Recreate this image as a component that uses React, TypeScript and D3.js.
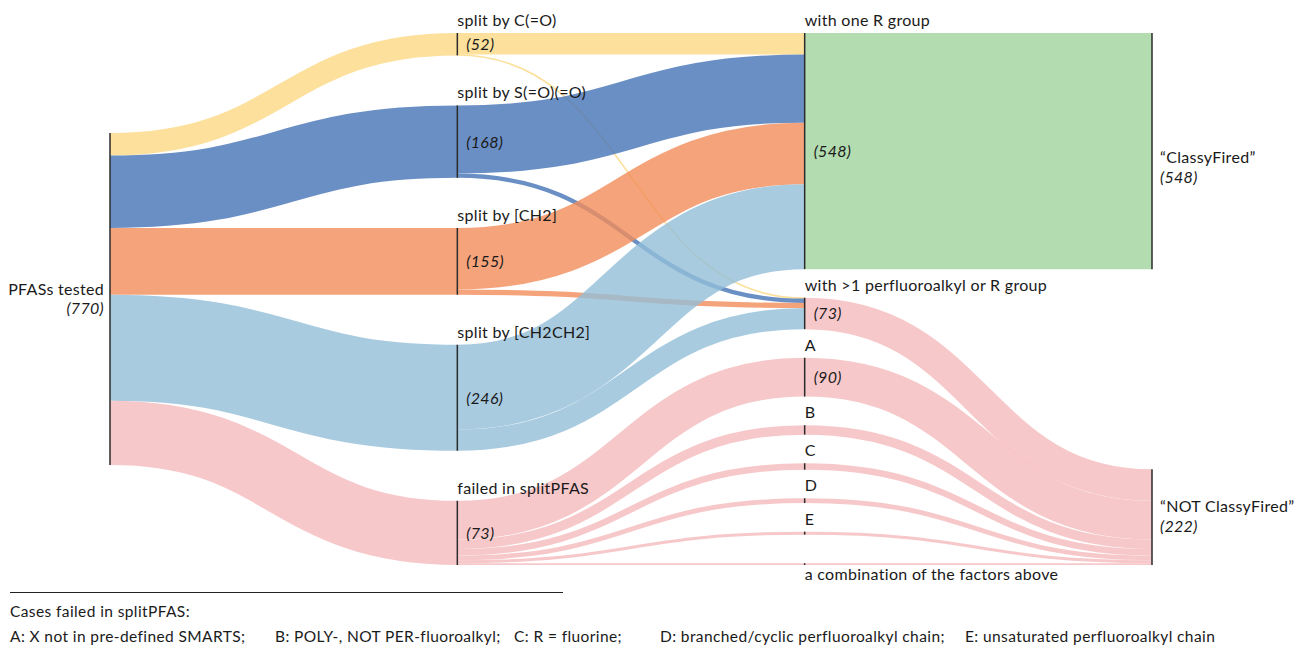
import React, { useEffect, useRef } from 'react';
import * as d3 from 'd3';

// nodes of the flow, left to right
const nodeNames = [
  'PFASs tested',
  'split by C(=O)',
  'split by S(=O)(=O)',
  'split by [CH2]',
  'split by [CH2CH2]',
  'failed in splitPFAS',
  'with one R group',
  'with >1 perfluoroalkyl or R group',
  'A',
  'B',
  'C',
  'D',
  'E',
  'a combination of the factors above',
  '\u201CClassyFired\u201D',
  '\u201CNOT ClassyFired\u201D',
];
const nodeColumns = [0, 1, 1, 1, 1, 1, 2, 2, 2, 2, 2, 2, 2, 2, 3, 3];
// counts as printed next to the nodes ('' = no count shown)
const nodeCountLabels = ['(770)', '(52)', '(168)', '(155)', '(246)', '(73)', '(548)', '(73)', '(90)', '', '', '', '', '', '(548)', '(222)'];

// links (source index, target index, value, colour key)
const linkSources = [0, 0, 0, 0, 0, 1, 1, 2, 2, 3, 3, 4, 4, 5, 5, 5, 5, 5, 5, 6, 7, 8, 9, 10, 11, 12, 13];
const linkTargets = [1, 2, 3, 4, 5, 6, 7, 6, 7, 6, 7, 6, 7, 8, 9, 10, 11, 12, 13, 14, 15, 15, 15, 15, 15, 15, 15];
const linkValues = [52, 168, 155, 246, 149, 50, 2, 158, 10, 143, 12, 197, 49, 90, 22, 15, 11, 7, 4, 548, 73, 90, 22, 15, 11, 7, 4];
const linkKinds = [
  'yellow', 'blue', 'orange', 'lightblue', 'pink',
  'yellow', 'yellow', 'blue', 'blue', 'orange', 'orange', 'lightblue', 'lightblue',
  'pink', 'pink', 'pink', 'pink', 'pink', 'pink',
  'green', 'pink', 'pink', 'pink', 'pink', 'pink', 'pink', 'pink',
];

const caseTitle = 'Cases failed in splitPFAS:';
const caseItems = [
  'A: X not in pre-defined SMARTS;',
  'B: POLY-, NOT PER-fluoroalkyl;',
  'C: R = fluorine;',
  'D: branched/cyclic perfluoroalkyl chain;',
  'E: unsaturated perfluoroalkyl chain',
];

const W = 1311;
const H = 647;
const FONT = 'Lato, "Open Sans", sans-serif';

// colour as it shows on white, drawn with some transparency so crossings blend
const ALPHA = 0.8;
const shownColors: Record<string, string> = {
  yellow: '#FCE09B',
  blue: '#6A8FC4',
  orange: '#F5A37B',
  lightblue: '#A8CBE0',
  pink: '#F7C8CA',
  green: '#B3DCB0',
};
const baseColor = (hex: string) => {
  const c = d3.rgb(hex);
  const f = (v: number) => Math.max(0, Math.min(255, (v - 255 * (1 - ALPHA)) / ALPHA));
  return d3.rgb(f(c.r), f(c.g), f(c.b)).formatHex();
};

const App = () => {
  const ref = useRef<SVGSVGElement>(null);

  useEffect(() => {
    const svg = d3.select(ref.current);
    svg.selectAll('*').remove();

    const colX = d3.scalePoint<number>().domain([0, 1, 2, 3]).range([110, 1152]);
    const yTop = 33;
    const yBottom = 565;
    const nodePadding = 28.6;

    const nodes: any[] = nodeNames.map((name, i) => ({
      i, name, col: nodeColumns[i], count: nodeCountLabels[i], out: [] as any[], inc: [] as any[],
    }));
    const links: any[] = linkValues.map((v, i) => ({
      value: v, source: nodes[linkSources[i]], target: nodes[linkTargets[i]], kind: linkKinds[i],
    }));
    links.forEach(l => { l.source.out.push(l); l.target.inc.push(l); });
    nodes.forEach(n => {
      n.value = Math.max(d3.sum(n.out, (l: any) => l.value), d3.sum(n.inc, (l: any) => l.value));
      n.x = colX(n.col);
    });

    // vertical scale: the fullest column fits with the given padding
    const columns = d3.groups(nodes, n => n.col).map(g => g[1]);
    const ky = d3.min(columns, c => (yBottom - yTop - (c.length - 1) * nodePadding) / d3.sum(c, n => n.value))!;
    const hScale = d3.scaleLinear().domain([0, 1]).range([0, ky]);

    // spread each column over the full height (single node is centred)
    columns.forEach(c => {
      const total = d3.sum(c, n => hScale(n.value));
      if (c.length === 1) {
        const n = c[0];
        n.y0 = (yTop + yBottom) / 2 - hScale(n.value) / 2;
        n.y1 = n.y0 + hScale(n.value);
      } else {
        const gap = (yBottom - yTop - total) / (c.length - 1);
        let y = yTop;
        c.forEach(n => { n.y0 = y; n.y1 = y + hScale(n.value); y = n.y1 + gap; });
      }
    });

    // stack links on the nodes
    nodes.forEach(n => {
      let y = n.y0;
      n.out.sort((a: any, b: any) => a.target.y0 - b.target.y0).forEach((l: any) => {
        l.width = hScale(l.value); l.sy = y + l.width / 2; y += l.width;
      });
      y = n.y0;
      n.inc.sort((a: any, b: any) => a.source.y0 - b.source.y0).forEach((l: any) => {
        l.ty = y + hScale(l.value) / 2; y += hScale(l.value);
      });
    });

    const linkPath = d3.linkHorizontal<any, any>()
      .source((d: any) => [d.source.x, d.sy])
      .target((d: any) => [d.target.x, d.ty]);

    svg.append('g')
      .selectAll('path')
      .data(links)
      .enter().append('path')
      .attr('d', linkPath)
      .attr('fill', 'none')
      .attr('stroke', (d: any) => baseColor(shownColors[d.kind]))
      .attr('stroke-opacity', ALPHA)
      .attr('stroke-width', (d: any) => Math.max(1.6, d.width));

    // nodes are thin dark bars
    svg.append('g')
      .selectAll('line')
      .data(nodes)
      .enter().append('line')
      .attr('x1', (d: any) => d.x).attr('x2', (d: any) => d.x)
      .attr('y1', (d: any) => d.y0).attr('y2', (d: any) => d.y1)
      .attr('stroke', '#2b2b2b')
      .attr('stroke-width', 1.5);

    const labels = svg.append('g')
      .style('font-family', FONT)
      .style('font-size', '16px')
      .style('letter-spacing', '0.3px')
      .style('fill', '#1a1a1a');

    const labelNudge: Record<number, number> = { 14: 12, 15: -5 };

    nodes.forEach(n => {
      const cy = (n.y0 + n.y1) / 2;
      if (n.col === 0) {
        labels.append('text').attr('x', n.x - 6).attr('y', cy - 4).attr('text-anchor', 'end').text(n.name);
        labels.append('text').attr('x', n.x - 6).attr('y', cy + 15).attr('text-anchor', 'end')
          .style('font-style', 'italic').text(n.count);
      } else if (n.col === 3) {
        const y = cy + (labelNudge[n.i] || 0);
        labels.append('text').attr('x', n.x + 8).attr('y', y).text(n.name);
        labels.append('text').attr('x', n.x + 8).attr('y', y + 20).style('font-style', 'italic').text(n.count);
      } else {
        const below = n.i === nodeNames.length - 3;
        labels.append('text').attr('x', n.x).attr('y', below ? n.y1 + 15 : n.y0 - 7).text(n.name);
        if (n.count) {
          labels.append('text').attr('x', n.x + 9).attr('y', cy + 6).style('font-style', 'italic').text(n.count);
        }
      }
    });

    // footnote
    const foot = svg.append('g')
      .style('font-family', FONT)
      .style('font-size', '15.5px')
      .style('letter-spacing', '0.4px')
      .style('fill', '#1a1a1a');
    foot.append('line').attr('x1', 10).attr('x2', 563).attr('y1', 592.5).attr('y2', 592.5)
      .attr('stroke', '#222').attr('stroke-width', 1.2);
    foot.append('text').attr('x', 10).attr('y', 617).text(caseTitle);
    const itemX = [10, 275, 514, 660, 965];
    foot.selectAll('text.case')
      .data(caseItems)
      .enter().append('text')
      .attr('class', 'case')
      .attr('x', (_d: any, i: number) => itemX[i])
      .attr('y', 642)
      .text((d: any) => d);
  }, []);

  return (
    <svg ref={ref} width={W} height={H}
      style={{ position: 'absolute', left: 0, top: 0, background: '#fff', display: 'block' }} />
  );
};

export default App;
